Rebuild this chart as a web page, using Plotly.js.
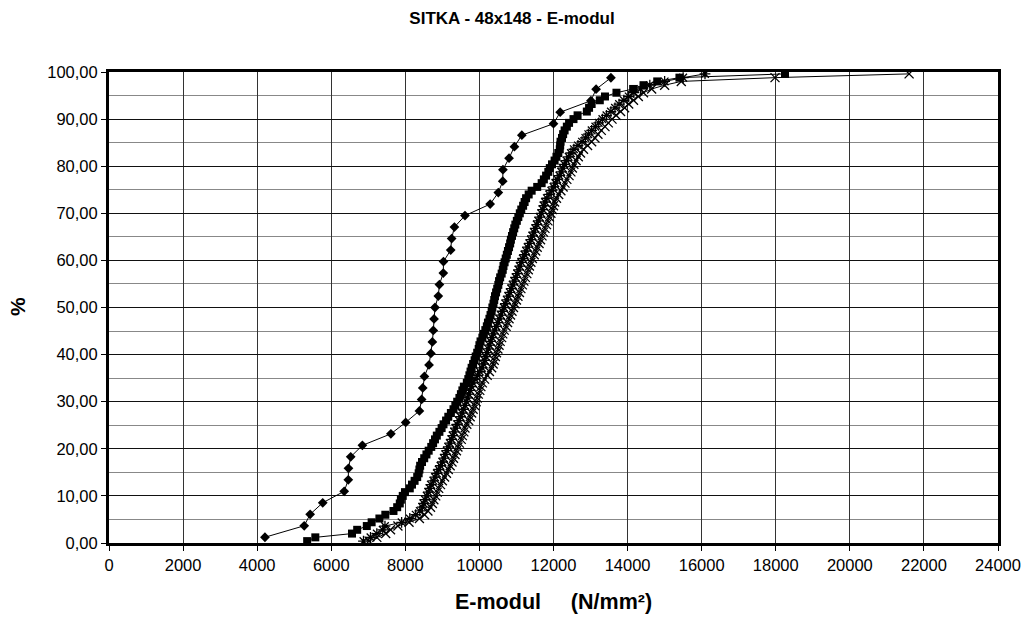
<!DOCTYPE html>
<html>
<head>
<meta charset="utf-8">
<script src="https://cdn.plot.ly/plotly-3.0.1.min.js"></script>
<style>html,body{margin:0;padding:0;background:#fff;}#chart{width:1026px;height:617px;}</style>
</head>
<body>
<div id="chart"></div>
<script>
// Series A (diamonds)
var pctA = [1.22,3.66,6.10,8.54,10.98,13.41,15.85,18.29,20.73,23.17,25.61,28.05,30.49,32.93,35.37,37.80,40.24,42.68,45.12,47.56,50.00,52.44,54.88,57.32,59.76,62.20,64.63,67.07,69.51,71.95,74.39,76.83,79.27,81.71,84.15,86.59,89.02,91.46,93.90,96.34,98.78];
var emodA = [4210,5270,5430,5770,6350,6460,6465,6525,6840,7610,8010,8380,8440,8470,8515,8640,8690,8730,8755,8775,8800,8890,8920,9025,9030,9225,9250,9325,9610,10290,10510,10630,10635,10800,10945,11145,12000,12180,13010,13150,13550];

// Series B, C, D share the same cumulative percentages
var pctBCD = [0.4,1.2,2.0,2.8,3.6,4.4,5.2,6.0,6.8,7.6,8.4,9.2,10.0,10.8,11.6,12.4,13.2,14.0,14.8,15.6,16.4,17.2,18.0,18.8,19.6,20.4,21.2,22.0,22.8,23.6,24.4,25.2,26.0,26.8,27.6,28.4,29.2,30.0,30.8,31.6,32.4,33.2,34.0,34.8,35.6,36.4,37.2,38.0,38.8,39.6,40.4,41.2,42.0,42.8,43.6,44.4,45.2,46.0,46.8,47.6,48.4,49.2,50.0,50.8,51.6,52.4,53.2,54.0,54.8,55.6,56.4,57.2,58.0,58.8,59.6,60.4,61.2,62.0,62.8,63.6,64.4,65.2,66.0,66.8,67.6,68.4,69.2,70.0,70.8,71.6,72.4,73.2,74.0,74.8,75.6,76.4,77.2,78.0,78.8,79.6,80.4,81.2,82.0,82.8,83.6,84.4,85.2,86.0,86.8,87.6,88.4,89.2,90.0,90.8,91.6,92.4,93.2,94.0,94.8,95.6,96.4,97.2,98.0,98.8,99.6];

// Series B (squares)
var emodB = [5350,5570,6560,6700,6960,7090,7300,7460,7680,7780,7850,7880,7930,7990,8120,8180,8250,8320,8360,8380,8400,8450,8510,8570,8630,8700,8750,8800,8850,8920,8980,9030,9100,9160,9230,9300,9350,9400,9460,9500,9540,9580,9660,9700,9730,9760,9790,9830,9870,9900,9940,9980,10000,10030,10080,10120,10160,10200,10230,10270,10300,10330,10350,10380,10400,10420,10450,10480,10510,10530,10560,10600,10630,10650,10680,10710,10740,10770,10800,10830,10850,10880,10910,10940,10970,11010,11050,11090,11130,11180,11220,11260,11330,11410,11560,11680,11740,11800,11860,11900,11960,12030,12080,12130,12170,12180,12190,12230,12260,12300,12360,12420,12540,12650,12900,12960,13030,13250,13390,13700,14150,14430,14800,15400,18250];

// Series C (x markers)
var emodC = [7020,7230,7470,7600,7800,8100,8380,8520,8610,8680,8730,8770,8820,8860,8900,8950,9000,9060,9110,9160,9210,9260,9300,9340,9380,9420,9460,9510,9540,9580,9610,9660,9710,9750,9790,9830,9870,9910,9940,9970,10010,10040,10080,10140,10210,10270,10330,10370,10400,10430,10460,10500,10530,10560,10600,10630,10670,10720,10760,10800,10840,10880,10920,10960,11000,11040,11080,11120,11160,11200,11240,11280,11320,11350,11390,11430,11480,11520,11560,11610,11650,11690,11730,11770,11810,11850,11890,11930,11970,12000,12030,12080,12140,12200,12260,12310,12360,12420,12470,12510,12550,12610,12670,12730,12810,12920,13030,13120,13200,13290,13390,13480,13580,13690,13810,13920,14030,14160,14290,14430,14650,15000,15450,17980,21600];

// Series D (star markers)
var emodD = [6870,7060,7230,7390,7450,7900,8120,8280,8390,8460,8490,8530,8580,8620,8660,8690,8760,8800,8850,8900,8950,9000,9040,9080,9120,9160,9200,9250,9280,9320,9350,9400,9450,9490,9530,9570,9610,9650,9680,9710,9750,9780,9820,9880,9950,10010,10070,10110,10140,10170,10200,10240,10270,10300,10340,10370,10410,10460,10500,10540,10580,10620,10660,10700,10740,10780,10820,10860,10900,10940,10980,11020,11060,11090,11130,11170,11220,11260,11300,11350,11390,11430,11470,11510,11550,11590,11630,11670,11710,11740,11770,11820,11880,11940,12000,12050,12100,12160,12210,12250,12290,12350,12410,12470,12550,12660,12770,12860,12940,13030,13130,13220,13320,13430,13550,13660,13770,13900,14030,14170,14350,14600,15000,15500,16090];

var xTicks = [0,2000,4000,6000,8000,10000,12000,14000,16000,18000,20000,22000,24000];
var yTicks = [0,10,20,30,40,50,60,70,80,90,100];

var FONT = '"Liberation Sans", Arial, sans-serif';

var traces = [
  {x: emodD, y: pctBCD, type: 'scatter', mode: 'lines+markers',
   line: {color: '#000', width: 1},
   marker: {symbol: 'asterisk-open', size: 9, color: '#000', line: {color: '#000', width: 1.3}}},
  {x: emodC, y: pctBCD, type: 'scatter', mode: 'lines+markers',
   line: {color: '#000', width: 1},
   marker: {symbol: 'x-thin-open', size: 9, color: '#000', line: {color: '#000', width: 1.3}}},
  {x: emodB, y: pctBCD, type: 'scatter', mode: 'lines+markers',
   line: {color: '#000', width: 1},
   marker: {symbol: 'square', size: 8, color: '#000', line: {width: 0}}},
  {x: emodA, y: pctA, type: 'scatter', mode: 'lines+markers',
   line: {color: '#000', width: 1},
   marker: {symbol: 'diamond', size: 7.5, color: '#000', line: {width: 0}}}
];

var layout = {
  width: 1026, height: 617,
  margin: {l: 109, r: 28, t: 72, b: 74},
  paper_bgcolor: '#fff', plot_bgcolor: '#fff',
  showlegend: false,
  separators: ',.',
  font: {family: FONT, size: 16, color: '#000'},
  title: {text: '<b>SITKA - 48x148 - E-modul</b>', font: {family: FONT, size: 17, color: '#000'},
          xref: 'container', yref: 'container', x: 512 / 1026, y: 1 - 18 / 617, xanchor: 'center', yanchor: 'middle'},
  xaxis: {
    range: [0, 24000], tickmode: 'array', tickvals: xTicks, tickformat: 'd',
    showgrid: true, gridcolor: '#333', gridwidth: 1,
    ticks: 'outside', ticklen: 5, tickcolor: '#000', tickwidth: 1,
    showline: true, linecolor: '#000', linewidth: 3, mirror: true,
    zeroline: false, tickfont: {family: FONT, size: 16.5, color: '#000'}
  },
  yaxis: {
    range: [0, 100], tickmode: 'array', tickvals: yTicks, tickformat: '.2f',
    showgrid: true, gridcolor: '#111', gridwidth: 1,
    minor: {tickmode: 'array', tickvals: [5,15,25,35,45,55,65,75,85,95], showgrid: true, gridcolor: '#888', gridwidth: 1, ticks: ''},
    ticks: 'outside', ticklen: 5, tickcolor: '#000', tickwidth: 1,
    showline: true, linecolor: '#000', linewidth: 3, mirror: true,
    zeroline: false, tickfont: {family: FONT, size: 16.5, color: '#000'}
  },
  annotations: [
    {text: '<b>E-modul\u00a0\u00a0\u00a0\u00a0\u00a0(N/mm²)</b>', xref: 'paper', yref: 'paper',
     x: 0.5, y: (543 - 602) / 471, xanchor: 'center', yanchor: 'middle',
     showarrow: false, font: {family: FONT, size: 21.5, color: '#000'}},
    {text: '<b>%</b>', xref: 'paper', yref: 'paper',
     x: (17 - 109) / 889, y: (543 - 307) / 471, xanchor: 'center', yanchor: 'middle',
     textangle: -90, showarrow: false, font: {family: FONT, size: 21, color: '#000'}}
  ]
};

Plotly.newPlot('chart', traces, layout, {displayModeBar: false, staticPlot: true});
</script>
</body>
</html>
